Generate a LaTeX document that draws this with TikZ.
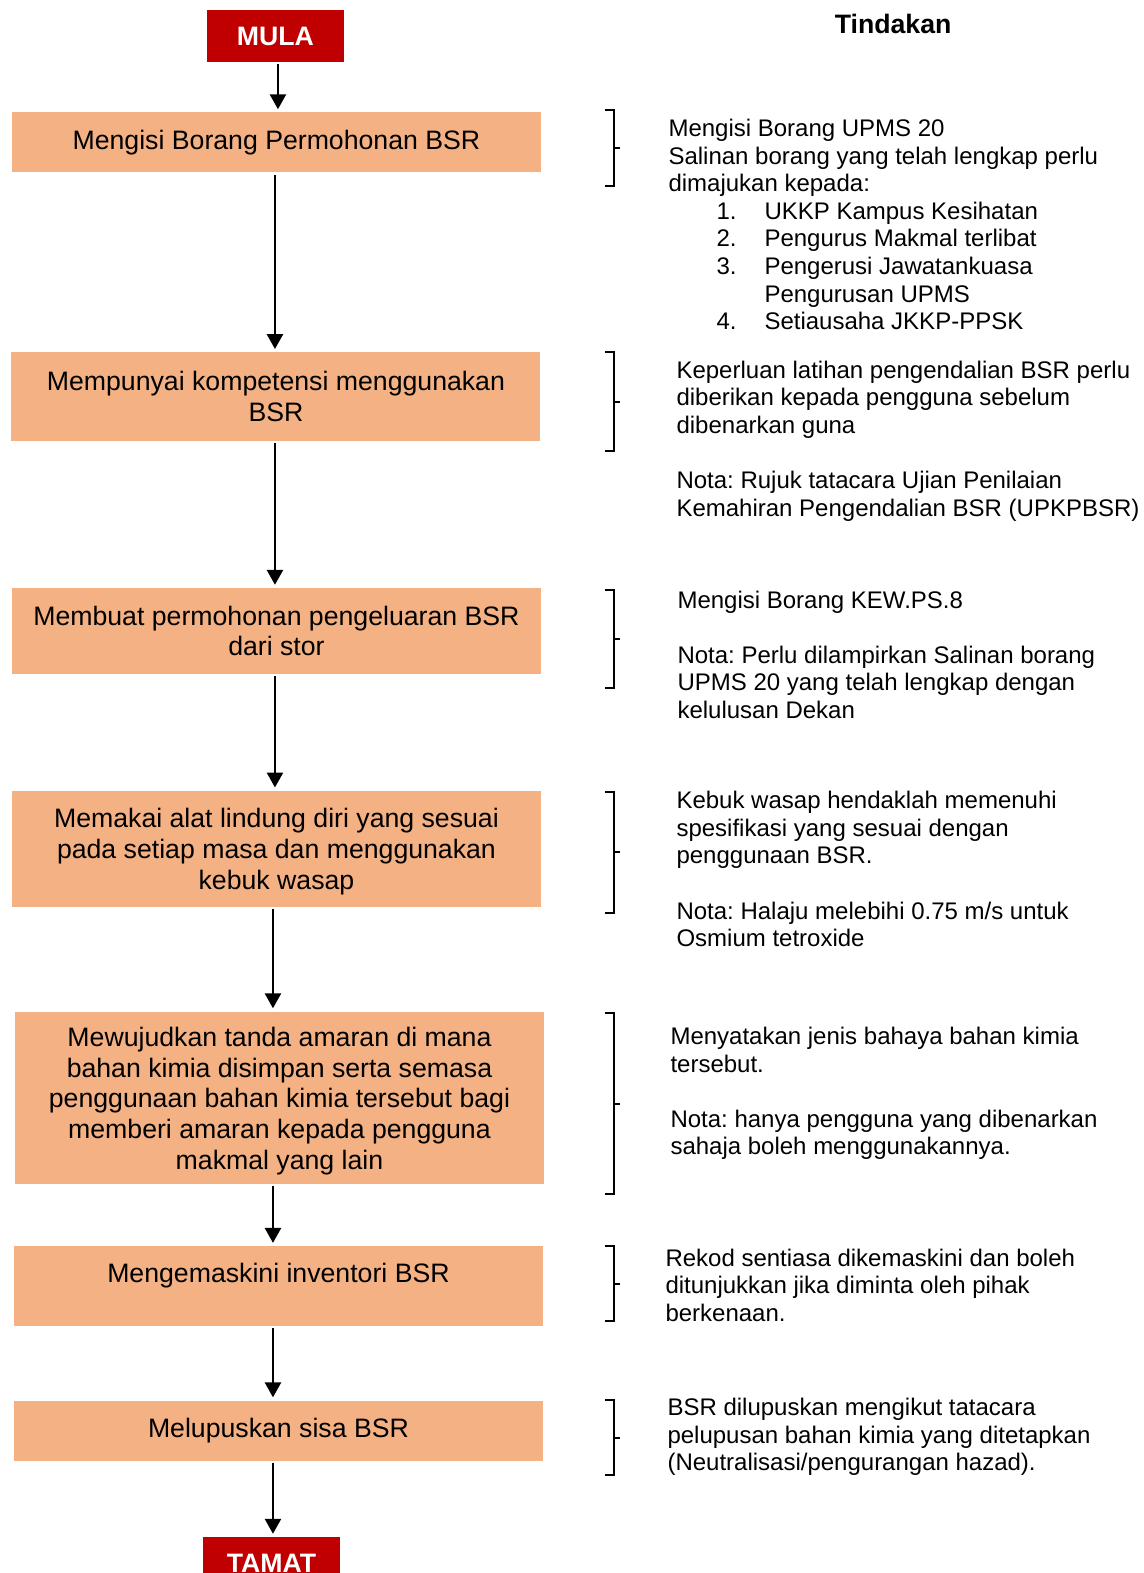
\documentclass[tikz,border=0pt]{standalone}
\usepackage{fontspec}
\setmainfont{Liberation Sans}
\usetikzlibrary{arrows.meta}
\definecolor{redbox}{HTML}{C00000}
\definecolor{orangebox}{HTML}{F4B183}
\newcommand\boxfnt{\fontsize{26.67}{30.7}\selectfont}
\newcommand\rtfnt{\fontsize{24}{27.6}\selectfont}
\newcommand\rs{\rule{0pt}{19pt}}
\newcommand\li[1]{\hspace*{48pt}\makebox[48pt][l]{#1}}
\frenchspacing
\begin{document}
\frenchspacing
\begin{tikzpicture}[x=1.0035pt,y=-1.0032pt,
  termbox/.style={fill=redbox, text=white, font=\boxfnt\bfseries, minimum width=137pt, minimum height=52pt, inner sep=0pt},
  stepbox/.style={fill=orangebox, font=\boxfnt, align=center, minimum width=529pt, inner sep=0pt},
  rtext/.style={anchor=north west, inner sep=0pt, align=left, font=\rtfnt\frenchspacing},
  arr/.style={line width=2.6pt, -{Triangle[width=16pt,length=15pt]}, shorten <=2pt, shorten >=3pt},
  brk/.style={line width=2pt}
]
\useasboundingbox (0,0) rectangle (1140,1568);
\clip (0,0) rectangle (1140,1568);

\node[termbox] (mula) at (274.5,36) {MULA};
\node[stepbox, minimum height=60pt] (b1) at (275.5,142) {Mengisi Borang Permohonan BSR};
\node[stepbox, minimum height=89pt] (b2) at (275,395.5) {Mempunyai kompetensi menggunakan\\BSR};
\node[stepbox, minimum height=86pt] (b3) at (275.5,629) {Membuat permohonan pengeluaran BSR\\dari stor};
\node[stepbox, minimum height=116pt] (b4) at (275.5,846) {\rule{0pt}{25pt}Memakai alat lindung diri yang sesuai\\pada setiap masa dan menggunakan\\kebuk wasap};
\node[stepbox, minimum height=172pt] (b5) at (278.5,1094) {\rule{0pt}{26.5pt}Mewujudkan tanda amaran di mana\\bahan kimia disimpan serta semasa\\penggunaan bahan kimia tersebut bagi\\memberi amaran kepada pengguna\\makmal yang lain};
\node[stepbox, minimum height=80pt] (b6) at (277.5,1282) {\raisebox{26pt}{Mengemaskini inventori BSR}};
\node[stepbox, minimum height=60pt] (b7) at (277.5,1426) {Melupuskan sisa BSR};
\node[termbox] (tamat) at (270.5,1558) {TAMAT};

\draw[arr] ([xshift=2.5pt]mula.south) -- ([xshift=2.5pt]mula.south |- b1.north);
\draw[arr] ([xshift=-1.5pt]b1.south) -- ([xshift=-1.5pt]b1.south |- b2.north);
\draw[arr] ([xshift=-1pt]b2.south) -- ([xshift=-1pt]b2.south |- b3.north);
\draw[arr] ([xshift=-1.5pt]b3.south) -- ([xshift=-1.5pt]b3.south |- b4.north);
\draw[arr] ([xshift=-3.5pt]b4.south) -- ([xshift=-3.5pt]b4.south |- b5.north);
\draw[arr] ([xshift=-6.5pt]b5.south) -- ([xshift=-6.5pt]b5.south |- b6.north);
\draw[arr] ([xshift=-5.5pt]b6.south) -- ([xshift=-5.5pt]b6.south |- b7.north);
\draw[arr] ([xshift=-5.5pt]b7.south) -- ([xshift=-5.5pt]b7.south |- tamat.north);

\node[font=\boxfnt\bfseries, inner sep=0pt] (tind) at (890,24) {Tindakan};

% brackets
\foreach \t/\b in {110/185, 351/450, 588/686, 789/910, 1010/1190, 1242/1317, 1396/1470}{
  \draw[brk] (603,\t) -- (612,\t) -- (612,\b) -- (603,\b);
  \draw[brk] (612,{(\t+\b)/2}) -- (618,{(\t+\b)/2});
}

\node[rtext] (t1) at (666,117) {\rs Mengisi Borang UPMS 20\\
Salinan borang yang telah lengkap perlu\\
dimajukan kepada:\\
\li{1.}UKKP Kampus Kesihatan\\
\li{2.}Pengurus Makmal terlibat\\
\li{3.}Pengerusi Jawatankuasa\\
\hspace*{96pt}Pengurusan UPMS\\
\li{4.}Setiausaha JKKP-PPSK};

\node[rtext] (t2) at (674,358) {\rs Keperluan latihan pengendalian BSR perlu\\
diberikan kepada pengguna sebelum\\
dibenarkan guna\\[27.6pt]
Nota: Rujuk tatacara Ujian Penilaian\\
Kemahiran Pengendalian BSR (UPKPBSR)};

\node[rtext] (t3) at (675,587) {\rs Mengisi Borang KEW.PS.8\\[27.6pt]
Nota: Perlu dilampirkan Salinan borang\\
UPMS 20 yang telah lengkap dengan\\
kelulusan Dekan};

\node[rtext] (t4) at (674,787) {\rs Kebuk wasap hendaklah memenuhi\\
spesifikasi yang sesuai dengan\\
penggunaan BSR.\\[27.6pt]
Nota: Halaju melebihi 0.75 m/s untuk\\
Osmium tetroxide};

\node[rtext] (t5) at (668,1022) {\rs Menyatakan jenis bahaya bahan kimia\\
tersebut.\\[27.6pt]
Nota: hanya pengguna yang dibenarkan\\
sahaja boleh menggunakannya.};

\node[rtext] (t6) at (663,1243) {\rs Rekod sentiasa dikemaskini dan boleh\\
ditunjukkan jika diminta oleh pihak\\
berkenaan.};

\node[rtext] (t7) at (665,1392) {\rs BSR dilupuskan mengikut tatacara\\
pelupusan bahan kimia yang ditetapkan\\
(Neutralisasi/pengurangan hazad).};
\end{tikzpicture}
\end{document}
